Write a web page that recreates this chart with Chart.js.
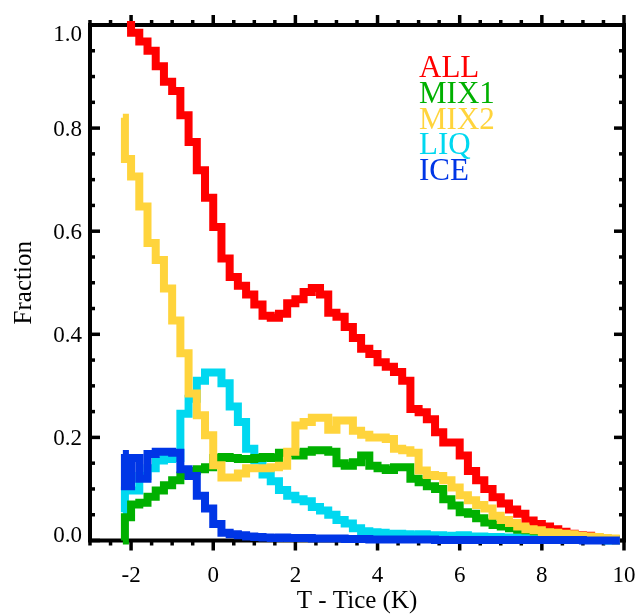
<!DOCTYPE html>
<html>
<head>
<meta charset="utf-8">
<script src="https://cdn.jsdelivr.net/npm/chart.js@4.4.1/dist/chart.umd.min.js"></script>
<style>
  html, body { margin: 0; padding: 0; background: #fff; }
  canvas { display: block; }
</style>
</head>
<body>
<canvas id="chart" width="640" height="614"></canvas>
<script>
// bin centres (first entry is the left edge where most curves start)
const tBins = [-2.2, -2.1, -1.9, -1.7, -1.5, -1.3, -1.1, -0.9, -0.7, -0.5, -0.3,
  -0.1, 0.1, 0.3, 0.5, 0.7, 0.9, 1.1, 1.3, 1.5, 1.7,
  1.9, 2.1, 2.3, 2.5, 2.7, 2.9, 3.1, 3.3, 3.5, 3.7,
  3.9, 4.1, 4.3, 4.5, 4.7, 4.9, 5.1, 5.3, 5.5, 5.7,
  5.9, 6.1, 6.3, 6.5, 6.7, 6.9, 7.1, 7.3, 7.5, 7.7,
  7.9, 8.1, 8.3, 8.5, 8.7, 8.9, 9.1, 9.3, 9.5, 9.7, 9.9];

const allFrac = [null, 1.0, 0.985, 0.968, 0.95, 0.92, 0.89, 0.872, 0.825, 0.773, 0.718,
  0.665, 0.608, 0.547, 0.511, 0.494, 0.477, 0.458, 0.436, 0.432, 0.44,
  0.46, 0.468, 0.482, 0.49, 0.477, 0.442, 0.434, 0.414, 0.393, 0.372,
  0.362, 0.346, 0.337, 0.327, 0.31, 0.255, 0.249, 0.235, 0.21, 0.19,
  0.19, 0.165, 0.135, 0.117, 0.1, 0.084, 0.072, 0.06, 0.052, 0.039,
  0.032, 0.027, 0.022, 0.017, 0.013, 0.01, 0.009, 0.006, 0.003, 0.001, 0.0];

const mix1Frac = [0.0, 0.045, 0.07, 0.073, 0.085, 0.097, 0.107, 0.117, 0.126, 0.135, 0.138,
  0.142, 0.16, 0.162, 0.16, 0.158, 0.158, 0.16, 0.162, 0.16, 0.17,
  0.17, 0.165, 0.172, 0.175, 0.175, 0.172, 0.15, 0.145, 0.152, 0.165,
  0.145, 0.14, 0.137, 0.142, 0.142, 0.12, 0.113, 0.105, 0.1, 0.08,
  0.068, 0.055, 0.052, 0.043, 0.035, 0.03, 0.027, 0.024, 0.021, 0.02,
  0.018, 0.015, 0.013, 0.011, 0.009, 0.008, 0.007, 0.006, 0.004, 0.003, 0.002];

const mix2Frac = [0.82, 0.74, 0.706, 0.648, 0.577, 0.544, 0.489, 0.427, 0.363, 0.285, 0.243,
  0.204, 0.146, 0.122, 0.122, 0.13, 0.14, 0.14, 0.14, 0.142, 0.145,
  0.172, 0.223, 0.23, 0.238, 0.238, 0.215, 0.233, 0.233, 0.213, 0.205,
  0.2, 0.2, 0.197, 0.178, 0.175, 0.17, 0.136, 0.127, 0.125, 0.117,
  0.103, 0.088, 0.078, 0.069, 0.062, 0.048, 0.04, 0.034, 0.027, 0.022,
  0.02, 0.016, 0.015, 0.013, 0.012, 0.009, 0.008, 0.007, 0.005, 0.004, 0.003];

const liqFrac = [0.055, 0.097, 0.097, 0.125, 0.14, 0.155, 0.158, 0.16, 0.246, 0.275, 0.31,
  0.326, 0.326, 0.305, 0.26, 0.23, 0.178, 0.155, 0.128, 0.115, 0.098,
  0.087, 0.08, 0.076, 0.065, 0.058, 0.05, 0.04, 0.033, 0.024, 0.018,
  0.016, 0.015, 0.012, 0.013, 0.012, 0.01, 0.012, 0.01, 0.01, 0.008,
  0.009, 0.01, 0.008, 0.008, 0.007, 0.007, 0.006, 0.006, 0.005, 0.004,
  0.004, 0.003, 0.003, 0.002, 0.002, 0.002, 0.001, 0.001, 0.001, 0.0, 0.0];

const iceFrac = [0.168, 0.105, 0.16, 0.12, 0.168, 0.172, 0.172, 0.17, 0.138, 0.125, 0.087,
  0.062, 0.032, 0.015, 0.012, 0.01, 0.008, 0.007, 0.006, 0.005, 0.006,
  0.005, 0.005, 0.005, 0.004, 0.004, 0.004, 0.004, 0.003, 0.003, 0.003,
  0.002, 0.002, 0.002, 0.002, 0.002, 0.002, 0.002, 0.002, 0.001, 0.001,
  0.001, 0.001, 0.001, 0.001, 0.001, 0.001, 0.001, 0.001, 0.001, 0.001,
  0.001, 0.001, 0.001, 0.001, 0.001, 0.001, 0.0, 0.0, 0.0, 0.0, 0.0];

const seriesNames = ['ALL', 'MIX1', 'MIX2', 'LIQ', 'ICE'];
const seriesColors = ['#ff0000', '#00b000', '#ffd43c', '#00d8f0', '#0036e6'];
const drawOrder = [5, 3, 2, 4, 1];   // lower = drawn on top

const xTicks = [-2, 0, 2, 4, 6, 8, 10];
const xTickLabels = ['-2', '0', '2', '4', '6', '8', '10'];
const yTicks = [0, 0.2, 0.4, 0.6, 0.8, 1.0];
const yTickLabels = ['0.0', '0.2', '0.4', '0.6', '0.8', '1.0'];

const serif = "'Liberation Serif', 'Times New Roman', serif";

function line(ctx, x1, y1, x2, y2) {
  ctx.beginPath(); ctx.moveTo(x1, y1); ctx.lineTo(x2, y2); ctx.stroke();
}

// IDL-like box with ticks (x ticks outward, y ticks inward)
const framePlugin = {
  id: 'frame',
  beforeDatasetsDraw(chart) {
    const { ctx, chartArea: a, scales: { x, y } } = chart;
    ctx.save();
    ctx.strokeStyle = '#000';
    ctx.lineWidth = 4;
    ctx.strokeRect(a.left, a.top, a.right - a.left, a.bottom - a.top);
    ctx.lineWidth = 3.5;
    for (let v = -3; v <= 10.001; v += 0.5) {
      const p = x.getPixelForValue(v);
      const len = xTicks.some(t => Math.abs(t - v) < 1e-6) ? 10 : 5;
      line(ctx, p, a.bottom, p, a.bottom + len);
      line(ctx, p, a.top, p, a.top - len);
    }
    for (let v = 0; v <= 1.0001; v += 0.05) {
      const p = y.getPixelForValue(v);
      const len = yTicks.some(t => Math.abs(t - v) < 1e-6) ? 10 : 5;
      line(ctx, a.left, p, a.left + len, p);
      line(ctx, a.right, p, a.right - len, p);
    }
    ctx.restore();
  },
  afterDraw(chart) {
    const { ctx, chartArea: a, scales: { x, y } } = chart;
    ctx.save();
    ctx.fillStyle = '#000';
    ctx.font = '23px ' + serif;
    ctx.textBaseline = 'alphabetic';
    ctx.textAlign = 'right';
    yTicks.forEach((v, i) => {
      const p = Math.min(Math.max(y.getPixelForValue(v), a.top + 8), a.bottom - 7);
      ctx.fillText(yTickLabels[i], 82, p + 8);
    });
    ctx.textAlign = 'center';
    xTicks.forEach((v, i) => {
      ctx.fillText(xTickLabels[i], x.getPixelForValue(v), 582);
    });
    ctx.font = '25px ' + serif;
    ctx.fillText('T - Tice (K)', (a.left + a.right) / 2, 608);
    ctx.save();
    ctx.translate(31, (a.top + a.bottom) / 2);
    ctx.rotate(-Math.PI / 2);
    ctx.fillText('Fraction', 0, 0);
    ctx.restore();
    // legend as coloured words
    ctx.font = '31px ' + serif;
    ctx.textAlign = 'left';
    seriesNames.forEach((n, i) => {
      ctx.fillStyle = seriesColors[i];
      ctx.fillText(n, 419, 77 + i * 25.8);
    });
    ctx.restore();
  }
};

const seriesData = [allFrac, mix1Frac, mix2Frac, liqFrac, iceFrac];

new Chart(document.getElementById('chart'), {
  type: 'line',
  data: {
    datasets: seriesData.map((vals, k) => ({
      label: seriesNames[k],
      data: tBins.map((t, i) => ({ x: t, y: vals[i] })),
      borderColor: seriesColors[k],
      borderWidth: 8,
      stepped: 'middle',
      pointRadius: 0,
      fill: false,
      clip: false,
      borderJoinStyle: 'miter',
      borderCapStyle: 'butt',
      order: drawOrder[k]
    }))
  },
  options: {
    responsive: false,
    animation: false,
    layout: { padding: { left: 90, right: 16, top: 25, bottom: 73.5 } },
    scales: {
      x: { type: 'linear', min: -3, max: 10, display: false },
      y: { type: 'linear', min: 0, max: 1, display: false }
    },
    plugins: { legend: { display: false }, tooltip: { enabled: false } }
  },
  plugins: [framePlugin]
});
</script>
</body>
</html>
